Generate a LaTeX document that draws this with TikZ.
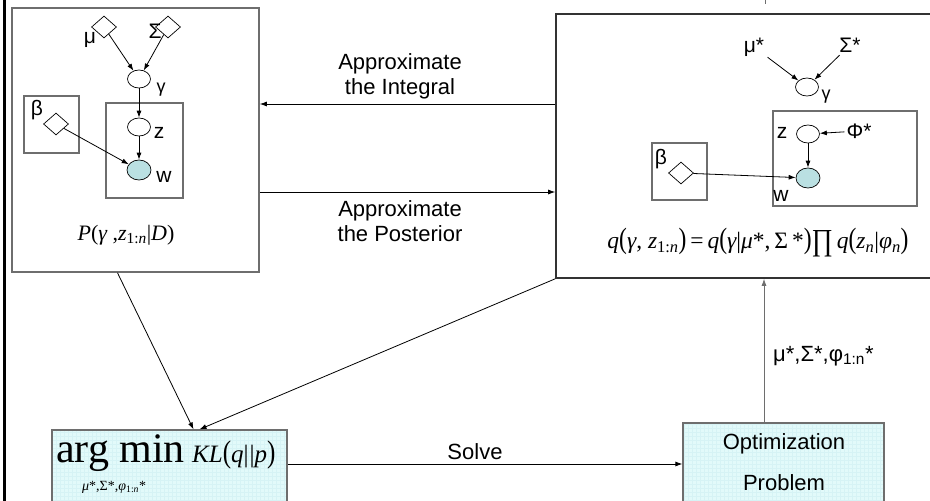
\RequirePackage{fix-cm}
\documentclass[tikz,border=0pt]{standalone}
\usepackage{graphicx}
\usepackage{fontspec}
\setmainfont{Liberation Sans}
\newfontfamily\seriffont{Liberation Serif}
\usetikzlibrary{arrows.meta,positioning,shapes.geometric}
\definecolor{obsblue}{RGB}{186,224,226}
\definecolor{boxcyan}{RGB}{226,250,250}
\definecolor{gridcyan}{RGB}{214,243,245}
\definecolor{framegray}{RGB}{110,110,110}
\newcommand{\tallpar}[1]{\scalebox{1}[1.25]{#1}}
\newcommand{\vi}[1]{{\itshape #1}}
\tikzset{
  arr/.style={-{Latex[length=7pt,width=5pt]}, line width=0.8pt},
  plate/.style={draw=framegray, line width=1.2pt, inner sep=0pt},
  bigbox/.style={draw=framegray, line width=1.6pt, inner sep=0pt},
  fillbox/.style={draw=framegray, fill=boxcyan, line width=1.2pt, inner sep=0pt},
  latent/.style={ellipse, draw, fill=white, line width=0.7pt, minimum width=23pt, minimum height=18pt, inner sep=0pt},
  observed/.style={latent, fill=obsblue, minimum width=24pt, minimum height=20pt},
  param/.style={diamond, draw, fill=white, line width=0.7pt, minimum width=25pt, minimum height=22pt, inner sep=0pt},
  lbl/.style={font=\fontsize{21}{24}\selectfont, inner sep=0pt},
  smalllbl/.style={font=\fontsize{18}{20}\selectfont, inner sep=0pt},
  caption/.style={font=\fontsize{22}{25}\selectfont, align=center, inner sep=0pt},
  formula/.style={font=\seriffont\fontsize{21}{24}\selectfont, inner sep=0pt},
}

\begin{document}
\begin{tikzpicture}[x=1pt, y=-1pt]
  \useasboundingbox (0,0) rectangle (930,501);
  \clip (0,0) rectangle (930,501);

  %% frame pieces
  \draw[line width=3pt] (4,0) -- (4,501);
  \draw[framegray, line width=1pt] (765,0) -- (765,4);

  %% big boxes
  \node[bigbox, minimum width=247pt, minimum height=264pt] (lbox) at (135.5,140) {};
  \node[bigbox, draw=black!80, minimum width=404pt, minimum height=264pt] (rbox) at (758,146) {};
  \node[fillbox, minimum width=235pt, minimum height=110pt] (amin) at (169.5,485) {};
  \node[fillbox, minimum width=201pt, minimum height=117pt] (opt) at (783.5,481.5) {};
  \draw[gridcyan, line width=0.3pt, step=4pt] ([shift={(1,1)}]amin.north west) grid ([shift={(-1,-1)}]amin.south east);
  \draw[gridcyan, line width=0.3pt, step=4pt] ([shift={(1,1)}]opt.north west) grid ([shift={(-1,-1)}]opt.south east);
  \node[fillbox, fill=none, minimum width=235pt, minimum height=110pt] (aminrim) at (amin) {};
  \node[fillbox, fill=none, minimum width=201pt, minimum height=117pt] (optrim) at (opt) {};

  %% left model: P
  \node[plate, minimum width=77pt, minimum height=95pt] (lplate) at (144.5,150.5) {};
  \node[plate, minimum width=55pt, minimum height=57pt] (lbplate) at (51.5,124.5) {};
  \node[param] (lmu) at (104,27) {};
  \node[param] (lsig) at (168,27) {};
  \node[param] (lbeta) at (56,124) {};
  \node[latent] (lgam) at (139,79) {};
  \node[latent] (lz) at (139,127) {};
  \node[observed] (lw) at (139,170) {};
  \node[lbl] (lmutxt) at (90,40) {μ};
  \node[lbl] (lsigtxt) at (155,31) {Σ};
  \node[smalllbl] (lgamtxt) at (161,90) {γ};
  \node[lbl] (lztxt) at (159,133) {z};
  \node[lbl] (lwtxt) at (164,177) {w};
  \node[lbl] (lbetatxt) at (37,110) {β};
  \draw[arr] (lmu) -- (lgam);
  \draw[arr] (lsig) -- (lgam);
  \draw[arr] (lgam) -- (lz);
  \draw[arr] (lz) -- (lw);
  \draw[arr] (lbeta) -- (lw);
  \node[formula, font=\seriffont\fontsize{22}{24}\selectfont] (pform) at (126,235) {\vi{P}(\vi{γ} ,\vi{z}\textsubscript{1:\vi{n}}|\vi{D})};

  %% right model: q
  \node[plate, minimum width=144pt, minimum height=95pt] (rplate) at (845,158.5) {};
  \node[plate, minimum width=55pt, minimum height=57pt] (rbplate) at (679.5,171.5) {};
  \node[param] (rbeta) at (681,173) {};
  \node[latent] (rgam) at (807,87) {};
  \node[latent] (rz) at (808,134) {};
  \node[observed] (rw) at (808,178) {};
  \node[lbl] (rmu) at (754,47) {μ*};
  \node[lbl] (rsig) at (850,45) {Σ*};
  \node[lbl] (rphi) at (859,131) {Φ*};
  \node[smalllbl] (rgamtxt) at (826,97) {γ};
  \node[lbl] (rztxt) at (782,133) {z};
  \node[lbl] (rwtxt) at (781,196) {w};
  \node[lbl] (rbetatxt) at (661,159) {β};
  \draw[arr, shorten <=4pt] (rmu) -- (rgam);
  \draw[arr, shorten <=4pt] (rsig) -- (rgam);
  \draw[arr, shorten <=2pt] (rphi) -- (rz);
  \draw[arr] (rz) -- (rw);
  \draw[arr] (rbeta) -- (rw);
  \node[formula, font=\seriffont\fontsize{23.5}{26}\selectfont] (qform) at (758,243)
    {\vi{q}\tallpar{(}\vi{γ}, \vi{z}\textsubscript{1:\vi{n}}\tallpar{)}\,=\,\vi{q}\tallpar{(}\vi{γ}|\vi{μ}*,\,Σ\,*\tallpar{)}\raisebox{-2pt}{\scalebox{1.1}[1.3]{∏}}\,\vi{q}\tallpar{(}\vi{z}\textsubscript{\vi{n}}|\vi{φ}\textsubscript{\vi{n}}\tallpar{)}};

  %% between the boxes
  \draw[arr] (rbox.west |- 0,104) -- (lbox.east |- 0,104);
  \draw[arr] (lbox.east |- 0,192) -- (rbox.west |- 0,192);
  \node[caption] (integral) at (400,76) {Approximate\\the Integral};
  \node[caption] (posterior) at (400,221) {Approximate\\the Posterior};
  \draw[arr] ([xshift=-18pt]lbox.south) -- ([xshift=24pt]amin.north);
  \draw[arr] (rbox.south west) -- ([xshift=30pt]amin.north);

  %% KL problem
  \node[font=\seriffont\fontsize{42}{42}\selectfont, anchor=base west, inner sep=0pt] (argmin) at (56,462) {arg min};
  \node[formula, font=\seriffont\fontsize{25}{27}\selectfont, anchor=base west] (kl) at (192,462) {\vi{KL}\tallpar{(}\vi{q}|\kern1pt|\vi{p}\tallpar{)}};
  \node[formula, font=\seriffont\fontsize{14}{16}\selectfont, anchor=base west] (argsub) at (82,490) {\vi{μ}*,Σ*,\vi{φ}\textsubscript{1:\vi{n}}*};
  \draw[arr] (amin.east |- 0,464) -- (opt.west |- 0,464);
  \node[caption] (solve) at (475,452) {Solve};
  \node[caption, font=\fontsize{22}{41}\selectfont] (opttxt) at (784,462) {Optimization\\Problem};
  \draw[arr, framegray] ([xshift=-19.5pt]opt.north) -- ([xshift=-19.5pt]opt.north |- rbox.south);
  \node[caption, anchor=west] (params) at (773,356) {μ*,Σ*,φ\textsubscript{1:n}*};
\end{tikzpicture}
\end{document}
